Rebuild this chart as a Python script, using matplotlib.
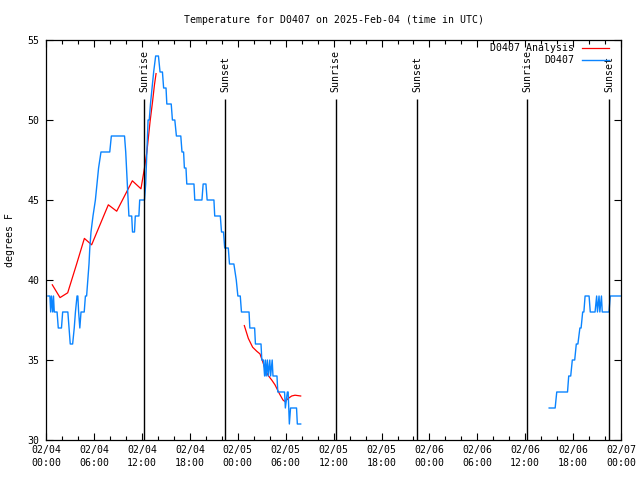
import pandas as pd
import numpy as np
from matplotlib import pyplot as plt
import matplotlib.dates as mdates

# hours after 2025-02-04 00:00 UTC
base = pd.Timestamp('2025-02-04 00:00')

obs1_h = [0.2, 0.45, 0.55, 0.65, 0.8, 0.9, 1.0, 1.35, 1.5, 1.9, 2.05, 2.7, 2.85, 3.0, 3.3, 3.5,
          3.65, 3.85, 3.95, 4.05, 4.2, 4.35, 4.75, 4.9, 5.05, 5.2, 5.35, 5.45, 5.6, 5.85, 6.15,
          6.35, 6.55, 6.85, 7.95, 8.15, 9.8, 9.95, 10.05, 10.15, 10.25, 10.35, 10.7, 10.8, 11.05,
          11.15, 11.6, 11.7, 12.3, 12.45, 12.6, 12.75, 12.9, 13.05, 13.25, 13.45, 13.7, 14.05,
          14.25, 14.55, 14.7, 15.0, 15.1, 15.65, 15.8, 16.1, 16.3, 16.85, 17.0, 17.2, 17.3, 17.5,
          17.6, 18.5, 18.6, 19.5, 19.65, 20.0, 20.15, 21.0, 21.1, 21.8, 21.95, 22.2, 22.35, 22.8,
          22.95, 23.5, 23.8, 24.0, 24.3, 24.45, 25.4, 25.5, 26.1, 26.2, 26.9, 27.0, 27.2, 27.35,
          27.45, 27.55, 27.7, 27.8, 28.0, 28.1, 28.3, 28.4, 28.9, 29.0, 29.85, 29.95, 30.2, 30.3,
          30.45, 30.6, 31.35, 31.45, 31.87]
obs1_t = [39, 39, 38, 39, 38, 39, 38, 38, 37, 37, 38, 38, 37, 36, 36, 37,
          38, 39, 39, 38, 37, 38, 38, 39, 39, 40, 41, 42, 43, 44, 45,
          46, 47, 48, 48, 49, 49, 48, 47, 46, 45, 44, 44, 43, 43,
          44, 44, 45, 45, 46, 48, 50, 50, 51, 52, 53, 54, 54,
          53, 53, 52, 52, 51, 51, 50, 50, 49, 49, 48, 48, 47, 47,
          46, 46, 45, 45, 46, 46, 45, 45, 44, 44, 43, 43, 42, 42,
          41, 41, 40, 39, 39, 38, 38, 37, 37, 36, 36, 35, 35, 34,
          35, 34, 35, 34, 35, 34, 35, 34, 34, 33, 33, 32, 33, 33,
          31, 32, 32, 31, 31]

obs2_h = [63.0, 63.75, 63.95, 65.3, 65.45, 65.7, 65.9, 66.2, 66.4, 66.6, 66.85, 67.0, 67.2,
          67.35, 67.5, 68.0, 68.15, 68.75, 68.95, 69.05, 69.25, 69.35, 69.55, 69.65, 70.5,
          70.65, 71.9]
obs2_t = [32, 32, 33, 33, 34, 34, 35, 35, 36, 36, 37, 37, 38,
          38, 39, 39, 38, 38, 39, 38, 39, 38, 39, 38, 38,
          39, 39]

ana1_h = [0.75, 1.72, 2.68, 3.8, 4.77, 5.68, 7.77, 8.82, 10.78, 11.86, 12.3, 12.6, 13.0, 13.3,
          13.55, 13.75]
ana1_t = [39.7, 38.9, 39.2, 41.0, 42.6, 42.2, 44.7, 44.3, 46.2, 45.7, 47.0, 48.0, 49.9, 51.1,
          52.2, 52.9]

ana2_h = [24.81, 25.31, 25.85, 26.36, 26.77, 27.11, 27.5, 27.85, 28.24, 28.65, 29.2, 29.65,
          29.9, 30.32, 30.74, 31.16, 31.87]
ana2_t = [37.15, 36.35, 35.8, 35.55, 35.38, 34.9, 34.3, 34.0, 33.75, 33.45, 32.9, 32.5,
          32.4, 32.6, 32.75, 32.8, 32.75]

sun_times = ['2025-02-04 12:17', '2025-02-04 22:26', '2025-02-05 12:16',
             '2025-02-05 22:29', '2025-02-06 12:15', '2025-02-06 22:32']
sun_names = ['Sunrise', 'Sunset', 'Sunrise', 'Sunset', 'Sunrise', 'Sunset']


def to_time(hours):
    return base + pd.to_timedelta(np.array(hours), unit='h')


fs = 7.1
plt.rcParams['font.family'] = 'DejaVu Sans Mono'
plt.rcParams['font.size'] = fs

fig = plt.figure(figsize=(6.4, 4.8), dpi=100)
ax = fig.add_axes([46.3 / 640, 40 / 480, 574.7 / 640, 400 / 480])

red = '#ff0000'
blue = '#0a84ff'
ax.plot(to_time(ana1_h), ana1_t, color=red, lw=0.9, label='D0407 Analysis')
ax.plot(to_time(ana2_h), ana2_t, color=red, lw=0.9)
ax.plot(to_time(obs1_h), obs1_t, color=blue, lw=1.0, label='D0407')
ax.plot(to_time(obs2_h), obs2_t, color=blue, lw=1.0)

for t, name in zip(sun_times, sun_names):
    ts = pd.Timestamp(t)
    ax.vlines(ts, 30, 51.3, color='black', lw=1.0)
    ax.text(ts, 51.75, name, rotation=90, ha='center', va='bottom', fontsize=fs)

ax.set_xlim(base, base + pd.Timedelta(hours=72))
ax.set_ylim(30, 55)

ticks = pd.date_range(base, periods=13, freq='6h')
ax.set_xticks(ticks, labels=[t.strftime('%m/%d\n%H:%M') for t in ticks], linespacing=1.35)
ax.xaxis.set_minor_locator(mdates.HourLocator(byhour=range(0, 24, 2)))
ax.set_yticks([30, 35, 40, 45, 50, 55])

ax.tick_params(which='both', direction='in', top=True, right=True, width=0.8)
ax.tick_params(which='major', length=5)
ax.tick_params(which='minor', length=3)
ax.tick_params(axis='x', pad=3.5)
ax.tick_params(axis='y', pad=5)
for s in ax.spines.values():
    s.set_linewidth(0.9)

ax.set_title('Temperature for D0407 on 2025-Feb-04 (time in UTC)', fontsize=fs, pad=12)
ax.set_ylabel('degrees F', fontsize=fs)
ax.yaxis.set_label_coords(-0.054, 0.5)

ax.legend(loc='upper right', bbox_to_anchor=(1 - 11.7 / 574.7, 1 - 3.5 / 400),
          markerfirst=False, frameon=False, borderaxespad=0, borderpad=0,
          handlelength=2.8, handletextpad=0.75, labelspacing=0.15, fontsize=fs)

fig.savefig('out.png', dpi=100)
